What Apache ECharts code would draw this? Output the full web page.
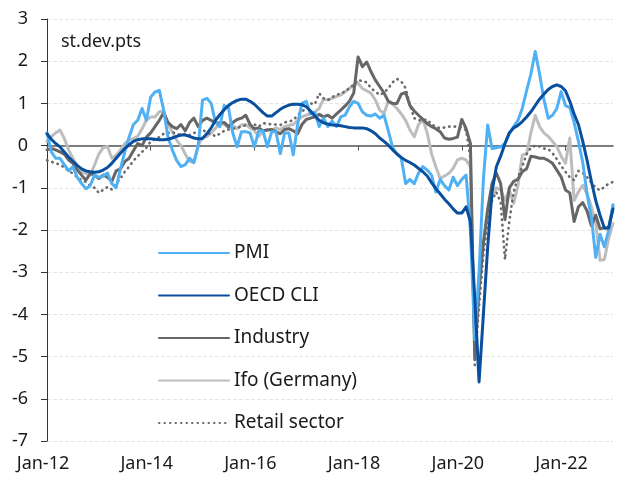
<!DOCTYPE html>
<html>
<head>
<meta charset="utf-8">
<script src="https://cdn.jsdelivr.net/npm/echarts@6/dist/echarts.min.js"></script>
<style>
  html, body { margin: 0; padding: 0; background: #fff; }
  #chart { width: 619px; height: 477px; }
</style>
</head>
<body>
<div id="chart"></div>
<script>
// monthly, Jan-12 .. Dec-22
const monthNames = ["Jan","Feb","Mar","Apr","May","Jun","Jul","Aug","Sep","Oct","Nov","Dec"];
const years = ["12","13","14","15","16","17","18","19","20","21","22"];
const categories = [];
years.forEach(y => monthNames.forEach(m => categories.push(m + "-" + y)));

const pmi = [
  0.3, -0.15, -0.3, -0.3, -0.45, -0.6, -0.5, -0.75, -0.9, -1.02, -0.95, -0.7,
  -0.75, -0.72, -0.65, -0.9, -1.0, -0.55, -0.15, 0.2, 0.5, 0.6, 0.88, 0.6,
  1.15, 1.27, 1.31, 0.84, 0.2, -0.1, -0.35, -0.5, -0.45, -0.3, -0.4, 0.0,
  1.08, 1.12, 1.0, 0.55, 0.45, 0.95, 0.9, 0.3, -0.03, 0.33, 0.33, 0.3,
  -0.03, 0.35, 0.35, -0.03, 0.33, 0.33, -0.19, 0.3, 0.3, -0.22, 0.5, 1.0,
  1.05, 0.75, 0.78, 0.45, 0.65, 0.45, 0.58, 0.45, 0.68, 0.72, 0.92, 1.05,
  1.0, 0.8, 0.72, 0.7, 0.75, 0.65, 0.72, 0.35, -0.05, -0.2, -0.3, -0.9,
  -0.8, -0.9, -0.65, -0.5, -0.58, -0.7, -1.1, -0.8, -0.95, -1.05, -0.75, -0.95,
  -0.8, -0.7, -2.0, -4.6, -3.0, -0.8, 0.49, -0.07, -0.05, -0.03, 0.05, 0.29,
  0.45, 0.6, 0.88, 1.3, 1.7, 2.23, 1.7, 1.1, 0.65, 0.72, 0.88, 1.28,
  0.95, 0.9, 0.55, 0.1, -0.4, -1.15, -1.7, -2.65, -2.1, -2.4, -2.0, -1.4
];
const oecd = [
  0.28, 0.15, 0.05, -0.03, -0.15, -0.27, -0.37, -0.47, -0.55, -0.6, -0.62, -0.63,
  -0.62, -0.58, -0.52, -0.42, -0.3, -0.18, -0.07, 0.02, 0.1, 0.14, 0.16, 0.16,
  0.16, 0.15, 0.14, 0.14, 0.15, 0.18, 0.22, 0.25, 0.25, 0.22, 0.18, 0.16,
  0.17, 0.28, 0.42, 0.6, 0.73, 0.85, 0.95, 1.02, 1.07, 1.1, 1.1, 1.05,
  0.98, 0.88, 0.78, 0.7, 0.7, 0.78, 0.86, 0.92, 0.96, 0.98, 0.98, 0.97,
  0.92, 0.82, 0.7, 0.6, 0.54, 0.51, 0.49, 0.48, 0.47, 0.45, 0.43, 0.42,
  0.42, 0.42, 0.4, 0.35, 0.28, 0.18, 0.1, 0.01, -0.1, -0.2, -0.28, -0.35,
  -0.4, -0.46, -0.54, -0.62, -0.72, -0.88, -1.02, -1.14, -1.27, -1.38, -1.5, -1.6,
  -1.6, -1.45, -1.8, -3.6, -5.6, -4.0, -2.4, -1.1, -0.5, -0.25, 0.05, 0.3,
  0.42, 0.48, 0.57, 0.68, 0.8, 0.95, 1.1, 1.22, 1.33, 1.4, 1.44, 1.4,
  1.3, 1.05, 0.75, 0.5, 0.1, -0.35, -0.85, -1.3, -1.65, -1.95, -1.95, -1.5
];
const industry = [
  -0.1, -0.07, -0.1, -0.15, -0.2, -0.34, -0.42, -0.58, -0.7, -0.82, -0.66, -0.7,
  -0.78, -0.7, -0.75, -0.85, -0.6, -0.55, -0.38, -0.3, -0.12, 0.05, 0.0, 0.2,
  0.3, 0.45, 0.6, 0.78, 0.55, 0.45, 0.4, 0.5, 0.35, 0.55, 0.65, 0.45,
  0.6, 0.65, 0.6, 0.55, 0.53, 0.55, 0.45, 0.55, 0.62, 0.65, 0.72, 0.5,
  0.4, 0.42, 0.35, 0.37, 0.38, 0.33, 0.28, 0.38, 0.4, 0.35, 0.28, 0.5,
  0.62, 0.65, 0.68, 0.74, 0.68, 0.72, 0.65, 0.75, 0.84, 0.94, 1.05, 1.25,
  2.1, 1.87, 1.98, 1.75, 1.55, 1.4, 1.25, 1.05, 1.0, 1.0, 1.22, 1.26,
  0.95, 0.82, 0.72, 0.62, 0.52, 0.45, 0.4, 0.33, 0.18, 0.15, 0.17, 0.2,
  0.62, 0.4, 0.05, -5.05, -3.4, -2.3, -1.5, -0.9, -0.65, -0.9, -1.75, -1.0,
  -0.85, -0.8, -0.62, -0.55, -0.25, -0.27, -0.3, -0.3, -0.35, -0.42, -0.58, -0.74,
  -1.05, -1.12, -1.8, -1.45, -1.35, -1.55, -1.9, -1.65, -1.97, -1.95, -1.95, -1.45
];
const ifo = [
  0.1, 0.21, 0.3, 0.37, 0.17, -0.1, -0.3, -0.5, -0.62, -0.66, -0.7, -0.46,
  -0.2, -0.05, -0.02, -0.3, -0.23, -0.1, 0.05, 0.13, 0.17, 0.22, 0.4, 0.6,
  0.68, 0.68, 0.8, 0.82, 0.5, 0.33, 0.13, 0.0, -0.2, -0.38, -0.4, 0.0,
  0.2, 0.21, 0.3, 0.41, 0.53, 0.5, 0.42, 0.48, 0.4, 0.49, 0.5, 0.42,
  0.35, 0.22, 0.33, 0.38, 0.37, 0.42, 0.38, 0.45, 0.48, 0.5, 0.6, 0.68,
  0.72, 0.76, 0.8, 0.88, 1.1, 1.08, 1.12, 1.16, 1.2, 1.28, 1.36, 1.44,
  1.48, 1.35, 1.3, 1.24, 1.08, 0.84, 0.76, 1.05, 0.98, 0.88, 0.75, 0.6,
  0.37, 0.21, 0.5, 0.62, 0.3, -0.19, -0.5, -0.78, -0.72, -0.66, -0.54, -0.34,
  -0.3, -0.34, -0.5, -4.7, -3.1, -2.3, -1.75, -1.2, -1.0, -1.05, -1.3, -1.05,
  -1.37, -0.95, -0.22, -0.2, 0.3, 0.72, 0.45, 0.3, 0.22, 0.1, -0.02, -0.25,
  -0.42, 0.18, -1.3, -1.1, -0.94, -1.14, -1.45, -1.83, -2.72, -2.7, -2.2, -1.85
];
const retail = [
  -0.35, -0.38, -0.42, -0.45, -0.52, -0.6, -0.66, -0.75, -0.82, -0.86, -0.95, -1.0,
  -1.12, -1.05, -0.98, -1.04, -0.9, -0.78, -0.62, -0.5, -0.36, -0.25, -0.15, -0.05,
  0.1, 0.15, 0.2, 0.28, 0.3, 0.32, 0.28, 0.25, 0.28, 0.25, 0.3, 0.32,
  0.38, 0.3, 0.28, 0.22, 0.28, 0.35, 0.38, 0.4, 0.42, 0.45, 0.48, 0.52,
  0.5, 0.45, 0.53, 0.52, 0.5, 0.5, 0.49, 0.55, 0.57, 0.6, 0.72, 0.8,
  0.9, 1.0, 0.98, 1.24, 1.12, 1.08, 1.15, 1.2, 1.24, 1.28, 1.36, 1.44,
  1.56, 1.52, 1.5, 1.36, 1.28, 1.2, 1.25, 1.36, 1.5, 1.58, 1.52, 1.36,
  0.96, 0.65, 0.6, 0.6, 0.62, 0.5, 0.45, 0.41, 0.43, 0.45, 0.45, 0.45,
  0.42, 0.37, -0.3, -5.2, -3.8, -2.6, -1.8, -1.3, -1.1, -1.35, -2.7, -1.8,
  -1.1, -0.75, -0.5, -0.2, -0.05, 0.0, -0.02, -0.07, -0.08, -0.18, -0.32, -0.48,
  -0.62, -0.75, -0.82, -0.6, -0.65, -0.75, -0.88, -1.0, -1.06, -0.98, -0.9, -0.86
];

const legendNames = ["PMI", "OECD CLI", "Industry", "Ifo (Germany)", "Retail sector"];
const FONT = "Noto Sans";

function line(name, data, color, width, type) {
  return {
    name: name,
    type: "line",
    data: data,
    symbol: "none",
    smooth: false,
    xAxisIndex: 0,
    yAxisIndex: 0,
    lineStyle: { color: color, width: width, type: type || "solid", cap: "round", join: "round" },
    itemStyle: { color: color }
  };
}

const chart = echarts.init(document.getElementById("chart"), null, { renderer: "canvas" });
chart.setOption({
  animation: false,
  backgroundColor: "#fff",
  textStyle: { fontFamily: FONT },
  title: {
    text: "st.dev.pts",
    left: 56,
    top: 28,
    textStyle: { fontFamily: FONT, fontSize: 18, fontWeight: "normal", color: "#1a1a1a" }
  },
  grid: { left: 47, right: 6, top: 19, bottom: 36, containLabel: false },
  legend: {
    data: legendNames,
    orient: "vertical",
    left: 153,
    top: 238,
    itemWidth: 70,
    itemHeight: 20,
    itemGap: 22.5,
    itemStyle: { opacity: 0 },
    textStyle: { fontFamily: FONT, fontSize: 19, color: "#1a1a1a", lineHeight: 20 }
  },
  xAxis: [
    {
      type: "category",
      data: categories,
      boundaryGap: false,
      axisLine: { onZero: true, lineStyle: { color: "#555", width: 1.5 } },
      axisTick: { show: true, interval: 23, length: 5, lineStyle: { color: "#555" } },
      axisLabel: { show: false },
      splitLine: { show: false }
    },
    {
      type: "category",
      data: categories,
      boundaryGap: false,
      position: "bottom",
      axisLine: { show: false, onZero: false },
      axisTick: { show: false },
      axisLabel: { interval: 23, margin: 14, padding: [0, 8, 0, 0], fontFamily: FONT, fontSize: 18, color: "#1a1a1a" },
      splitLine: { show: false }
    }
  ],
  yAxis: {
    type: "value",
    min: -7,
    max: 3,
    interval: 1,
    axisLine: { show: true, lineStyle: { color: "#333", width: 1 } },
    axisTick: { show: true, length: 6, lineStyle: { color: "#333" } },
    axisLabel: { margin: 19, fontFamily: FONT, fontSize: 18, color: "#1a1a1a" },
    splitLine: { show: true, lineStyle: { color: "#e4e4e4", type: "dashed", width: 1 } }
  },
  series: [
    line("Ifo (Germany)", ifo, "#bdbdbd", 3),
    line("Industry", industry, "#666666", 3),
    line("Retail sector", retail, "#6a6a6a", 2.6, [0.5, 5]),
    line("PMI", pmi, "#4fb1f4", 3),
    line("OECD CLI", oecd, "#0a4f9e", 3)
  ]
});
</script>
</body>
</html>
